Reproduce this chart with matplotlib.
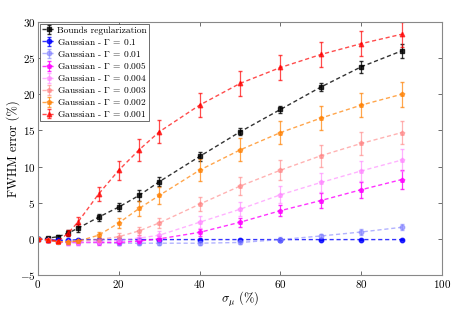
import numpy as np
import matplotlib
matplotlib.use("Agg")
import matplotlib.pyplot as plt

plt.rcParams['font.family'] = 'serif'
plt.rcParams['font.serif'] = ['cmr10', 'DejaVu Serif']
plt.rcParams['mathtext.fontset'] = 'cm'
plt.rcParams['axes.formatter.use_mathtext'] = True

x = [0, 2.5, 5, 7.5, 10, 15, 20, 25, 30, 40, 50, 60, 70, 80, 90]

labels = ['Bounds regularization',
          r'Gaussian - $\Gamma$ = 0.1',
          r'Gaussian - $\Gamma$ = 0.01',
          r'Gaussian - $\Gamma$ = 0.005',
          r'Gaussian - $\Gamma$ = 0.004',
          r'Gaussian - $\Gamma$ = 0.003',
          r'Gaussian - $\Gamma$ = 0.002',
          r'Gaussian - $\Gamma$ = 0.001']

bounds = [0.0, 0.1, 0.3, 0.8, 1.5, 3.0, 4.4, 6.0, 7.9, 11.4, 14.8, 17.9, 21.0, 23.8, 26.0]
bounds_err = [0.2, 0.2, 0.3, 0.4, 0.5, 0.5, 0.6, 0.7, 0.6, 0.6, 0.5, 0.5, 0.6, 0.8, 1.0]

g01 = [0.0, -0.1, -0.2, -0.2, -0.1, -0.1, -0.1, -0.1, -0.1, -0.1, -0.1, -0.1, -0.1, -0.1, -0.1]
g01_err = [0.1, 0.1, 0.1, 0.1, 0.1, 0.1, 0.1, 0.1, 0.1, 0.1, 0.1, 0.1, 0.1, 0.1, 0.1]

g001 = [0.0, -0.2, -0.4, -0.5, -0.5, -0.5, -0.6, -0.6, -0.6, -0.6, -0.5, -0.1, 0.4, 0.95, 1.6]
g001_err = [0.1, 0.1, 0.2, 0.2, 0.2, 0.2, 0.2, 0.2, 0.2, 0.2, 0.2, 0.3, 0.3, 0.4, 0.4]

g0005 = [0.0, -0.2, -0.4, -0.5, -0.5, -0.5, -0.5, -0.3, 0.0, 0.9, 2.3, 3.9, 5.3, 6.8, 8.2]
g0005_err = [0.1, 0.2, 0.2, 0.3, 0.3, 0.3, 0.3, 0.4, 0.4, 0.5, 0.6, 0.8, 1.0, 1.1, 1.3]

g0004 = [0.0, -0.2, -0.4, -0.5, -0.5, -0.4, -0.2, 0.1, 0.5, 2.3, 4.1, 6.1, 7.8, 9.4, 10.9]
g0004_err = [0.1, 0.2, 0.2, 0.3, 0.3, 0.3, 0.4, 0.5, 0.6, 0.8, 1.0, 1.2, 1.3, 1.4, 1.5]

g0003 = [0.0, -0.2, -0.4, -0.4, -0.3, -0.1, 0.3, 1.1, 2.2, 4.8, 7.3, 9.5, 11.5, 13.2, 14.7]
g0003_err = [0.1, 0.2, 0.2, 0.3, 0.3, 0.4, 0.5, 0.6, 0.7, 1.0, 1.2, 1.4, 1.5, 1.6, 1.6]

g0002 = [0.0, -0.2, -0.4, -0.4, -0.3, 0.5, 2.2, 4.2, 6.0, 9.5, 12.3, 14.7, 16.7, 18.5, 20.0]
g0002_err = [0.1, 0.2, 0.2, 0.3, 0.3, 0.4, 0.7, 1.0, 1.2, 1.5, 1.6, 1.6, 1.7, 1.7, 1.7]

g0001 = [0.0, -0.1, -0.3, 0.8, 2.4, 6.2, 9.5, 12.3, 14.8, 18.5, 21.5, 23.7, 25.5, 27.0, 28.3]
g0001_err = [0.1, 0.2, 0.3, 0.4, 0.6, 1.0, 1.3, 1.5, 1.6, 1.7, 1.7, 1.7, 1.7, 1.7, 1.7]

series = [bounds, g01, g001, g0005, g0004, g0003, g0002, g0001]
errors = [bounds_err, g01_err, g001_err, g0005_err, g0004_err, g0003_err, g0002_err, g0001_err]
colors = ['black', '#0000ff', '#8080ff', '#ff00ff', '#ff80ff', '#ff8080', '#ff8000', '#ff0000']
alphas = [0.8, 0.8, 0.6, 0.8, 0.6, 0.6, 0.7, 0.7]
markers = ['s', 'o', 'o', 'p', 'p', 'p', 'p', '^']

fig = plt.figure(figsize=(4.63, 3.09), dpi=100)
ax = fig.add_axes([0.082, 0.110, 0.873, 0.819])

for y, e, c, a, m, lab in zip(series, errors, colors, alphas, markers, labels):
    ax.errorbar(x, y, yerr=e, color=c, ls='--', lw=1.0, marker=m, ms=3.2,
                capsize=1.5, elinewidth=0.9, alpha=a, label=lab, dashes=(3, 2))

ax.set_xlim(0, 100)
ax.set_ylim(-5, 30)
ax.set_xticks([0, 20, 40, 60, 80, 100])
ax.set_yticks([-5, 0, 5, 10, 15, 20, 25, 30])
ax.tick_params(direction='in', top=True, right=True, labelsize=8, length=3,
               color='#555555', width=0.6, pad=2)
for s in ax.spines.values():
    s.set_color('#888888')
    s.set_linewidth(0.8)
ax.set_xlabel(r'$\sigma_\mu$ (%)', fontsize=9, labelpad=0)
ax.set_ylabel('FWHM error (%)', fontsize=9, labelpad=0)

leg = ax.legend(loc='upper left', fontsize=6.8, handlelength=1.4, handletextpad=0.2,
                borderpad=0.25, labelspacing=0.2, fancybox=False, framealpha=1,
                borderaxespad=0.2)
leg.get_frame().set_edgecolor('#555555')
leg.get_frame().set_linewidth(0.6)

fig.savefig('out.png', dpi=100)
